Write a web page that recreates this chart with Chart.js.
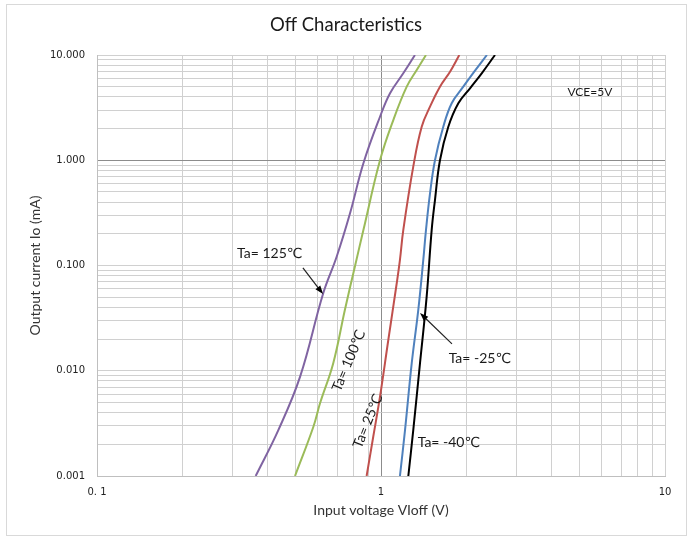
<!DOCTYPE html>
<html>
<head>
<meta charset="utf-8">
<script src="https://cdn.jsdelivr.net/npm/chart.js@4/dist/chart.umd.min.js"></script>
<style>
  body { margin: 0; background: #fff; }
  #wrap { width: 689px; height: 538px; }
</style>
</head>
<body>
<div id="wrap"><canvas id="offChart" width="689" height="538"></canvas></div>
<script>
// Curves: input voltage (V) vs output current (mA)
const v125 = [0.362, 0.435, 0.519, 0.626, 0.698, 0.778, 0.867, 0.992, 1.076, 1.198, 1.317];
const i125 = [0.001, 0.00273, 0.00879, 0.0544, 0.121, 0.313, 0.935, 2.59, 4.33, 6.70, 10];

const v100 = [0.498, 0.578, 0.610, 0.679, 0.746, 0.809, 0.867, 0.992, 1.105, 1.232, 1.336, 1.44];
const i100 = [0.001, 0.00294, 0.00491, 0.0118, 0.0378, 0.0975, 0.217, 1.0, 2.41, 5.0, 7.2, 10];

const v25 = [0.890, 0.939, 0.992, 1.061, 1.136, 1.166, 1.198, 1.299, 1.391, 1.488, 1.613, 1.75, 1.887];
const i25 = [0.001, 0.00236, 0.00567, 0.0196, 0.0678, 0.113, 0.217, 0.869, 2.08, 3.23, 5.0, 6.94, 10];

const vM25 = [1.166, 1.215, 1.283, 1.353, 1.409, 1.44, 1.488, 1.549, 1.657, 1.774, 1.949, 2.13, 2.36];
const iM25 = [0.001, 0.00273, 0.0118, 0.0378, 0.113, 0.217, 0.485, 1.0, 2.08, 3.48, 5.0, 6.94, 10];

const vM40 = [1.248, 1.299, 1.372, 1.448, 1.508, 1.549, 1.613, 1.726, 1.872, 2.058, 2.263, 2.52];
const iM40 = [0.001, 0.00273, 0.0118, 0.0506, 0.217, 0.419, 1.0, 2.08, 3.48, 4.83, 6.70, 10];

// tick labels
const xTickValues = [0.1, 1, 10];
const xTickLabels = ["0. 1", "1", "10"];
const yTickValues = [0.001, 0.01, 0.1, 1, 10];
const yTickLabels = ["0.001", "0.010", "0.100", "1.000", "10.000"];

const chartTitle = "Off Characteristics";

function pts(xs, ys) {
  return xs.map((x, k) => ({ x: x, y: ys[k] }));
}

function sameVal(a, b) {
  return Math.abs(Math.log10(a) - Math.log10(b)) < 1e-6;
}

function labelFor(values, labels, v) {
  for (let k = 0; k < values.length; k++) {
    if (sameVal(values[k], v)) return labels[k];
  }
  return "";
}

// keep only 1..9 x 10^n grid ticks (drop the 1.5 ones chart.js adds)
function wholeTicks(scale) {
  scale.ticks = scale.ticks.filter(t => {
    const s = t.value / Math.pow(10, Math.floor(Math.log10(t.value) + 1e-9));
    return Math.abs(s - Math.round(s)) < 1e-6;
  });
}

function gridColor(ctx) {
  if (ctx.tick && sameVal(ctx.tick.value, 1)) return "#8c8c8c";
  return "#d0d0d0";
}

// text notes and arrows, placed in data units
const notes = [
  { text: "Ta= 125℃", x: 0.406, y: 0.131, rot: 0, size: 14 },
  { text: "Ta= 100℃", x: 0.77, y: 0.0125, rot: -67, size: 14 },
  { text: "Ta= 25℃", x: 0.899, y: 0.00333, rot: -68, size: 14 },
  { text: "Ta= -25℃", x: 2.23, y: 0.0132, rot: 0, size: 14 },
  { text: "Ta= -40℃", x: 1.735, y: 0.0021, rot: 0, size: 14 },
  { text: "VCE=5V", x: 5.44, y: 4.45, rot: 0, size: 12 }
];
const arrows = [
  { from: [0.531, 0.0947], to: [0.625, 0.0536] },
  { from: [1.778, 0.0180], to: [1.372, 0.0354] }
];

const notePlugin = {
  id: "notes",
  beforeDraw(chart) {
    const c = chart.ctx;
    c.save();
    c.fillStyle = "#fff";
    c.fillRect(0, 0, chart.width, chart.height);
    c.strokeStyle = "#d9d9d9";
    c.lineWidth = 1;
    c.strokeRect(6.5, 4.5, 680, 531);
    c.font = "18.5px Lato, sans-serif";
    c.fillStyle = "#1a1a1a";
    c.textAlign = "center";
    c.textBaseline = "middle";
    c.fillText(chartTitle, 346, 25);
    c.restore();
  },
  afterDatasetsDraw(chart) {
    const c = chart.ctx;
    const xs = chart.scales.x, ys = chart.scales.y;
    c.save();
    notes.forEach(n => {
      const px = xs.getPixelForValue(n.x);
      const py = ys.getPixelForValue(n.y);
      c.save();
      c.translate(px, py);
      c.rotate(n.rot * Math.PI / 180);
      c.font = n.size + "px Lato, 'DejaVu Sans', sans-serif";
      c.fillStyle = "#1a1a1a";
      c.textAlign = "center";
      c.textBaseline = "middle";
      c.fillText(n.text, 0, 0);
      c.restore();
    });
    arrows.forEach(a => {
      const x1 = xs.getPixelForValue(a.from[0]), y1 = ys.getPixelForValue(a.from[1]);
      const x2 = xs.getPixelForValue(a.to[0]), y2 = ys.getPixelForValue(a.to[1]);
      const ang = Math.atan2(y2 - y1, x2 - x1);
      const head = 9;
      c.strokeStyle = "#222";
      c.fillStyle = "#000";
      c.lineWidth = 1.2;
      c.beginPath();
      c.moveTo(x1, y1);
      c.lineTo(x2 - Math.cos(ang) * head * 0.8, y2 - Math.sin(ang) * head * 0.8);
      c.stroke();
      c.beginPath();
      c.moveTo(x2, y2);
      c.lineTo(x2 - head * Math.cos(ang - 0.35), y2 - head * Math.sin(ang - 0.35));
      c.lineTo(x2 - head * Math.cos(ang + 0.35), y2 - head * Math.sin(ang + 0.35));
      c.closePath();
      c.fill();
    });
    c.restore();
  }
};

function series(label, xs, ys, color) {
  return {
    label: label,
    data: pts(xs, ys),
    borderColor: color,
    backgroundColor: color,
    borderWidth: 2,
    pointRadius: 0,
    fill: false,
    tension: 0.4
  };
}

const ctx = document.getElementById("offChart").getContext("2d");
const chart = new Chart(ctx, {
  type: "line",
  data: {
    datasets: [
      series("Ta=125", v125, i125, "#8064a2"),
      series("Ta=100", v100, i100, "#9bbb59"),
      series("Ta=25", v25, i25, "#c0504d"),
      series("Ta=-25", vM25, iM25, "#4f81bd"),
      series("Ta=-40", vM40, iM40, "#000000")
    ]
  },
  options: {
    responsive: false,
    animation: false,
    layout: { padding: { left: 0, right: 24, top: 55, bottom: 0 } },
    plugins: {
      legend: { display: false },
      tooltip: { enabled: false },
      title: { display: false }
    },
    scales: {
      x: {
        type: "logarithmic",
        min: 0.1,
        max: 10,
        afterBuildTicks: wholeTicks,
        afterFit(s) { s.height = 62; },
        grid: { color: gridColor, lineWidth: 1, drawTicks: false },
        border: { color: "#bfbfbf" },
        ticks: {
          autoSkip: false,
          maxRotation: 0,
          padding: 10,
          color: "#222",
          font: { family: "DejaVu Sans", size: 10 },
          callback: v => labelFor(xTickValues, xTickLabels, v)
        },
        title: {
          display: true,
          text: "Input voltage VIoff (V)",
          color: "#333",
          font: { family: "Lato", size: 14 },
          padding: { top: 0, bottom: 19.6 }
        }
      },
      y: {
        type: "logarithmic",
        min: 0.001,
        max: 10,
        afterBuildTicks: wholeTicks,
        afterFit(s) { s.width = 97; },
        grid: { color: gridColor, lineWidth: 1, drawTicks: false },
        border: { color: "#bfbfbf" },
        ticks: {
          autoSkip: false,
          padding: 12,
          color: "#222",
          font: { family: "DejaVu Sans", size: 10 },
          callback: v => labelFor(yTickValues, yTickLabels, v)
        },
        title: {
          display: true,
          text: "Output current Io (mA)",
          color: "#333",
          font: { family: "Lato", size: 14 },
          padding: { top: 26.6, bottom: 0 }
        }
      }
    }
  },
  plugins: [notePlugin]
});
</script>
</body>
</html>
